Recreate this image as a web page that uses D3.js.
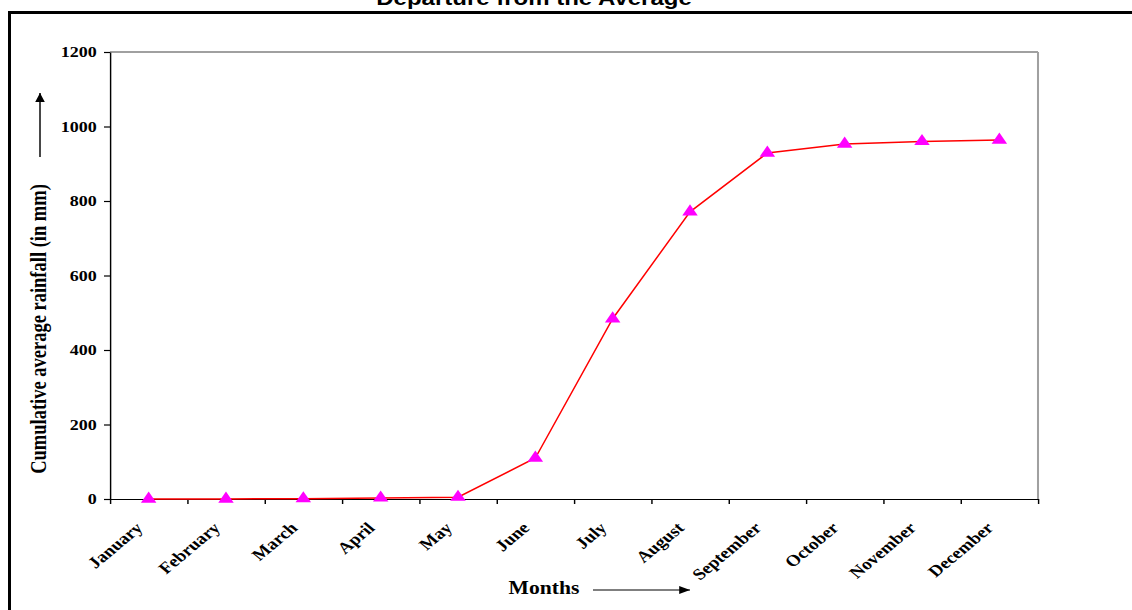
<!DOCTYPE html>
<html>
<head>
<meta charset="utf-8">
<script src="https://cdn.jsdelivr.net/npm/d3@7"></script>
<style>
    html, body { margin: 0; padding: 0; background: #fff; }
    svg { display: block; }
</style>
</head>
<body>
<svg id="chart" width="1132" height="610"></svg>
<script>
// Chart data
const months = ['January', 'February', 'March', 'April', 'May', 'June',
    'July', 'August', 'September', 'October', 'November', 'December'];
const rainfall = [0, 0, 1, 3, 5, 110, 484, 771, 929, 953, 960, 964];
const yTicks = [0, 200, 400, 600, 800, 1000, 1200];
const chartTitle = 'Departure from the Average';
const yTitle = 'Cumulative average rainfall (in mm)';
const xTitle = 'Months';

const svg = d3.select('#chart');
const sx = 1.2; // the original picture is stretched sideways, so draw in a narrower frame and scale it

// outer frame (screen coordinates)
svg.append('rect')
    .attr('x', 9.5).attr('y', 12.5)
    .attr('width', 1140).attr('height', 620)
    .attr('fill', 'none')
    .attr('stroke', '#000')
    .attr('stroke-width', 3);

const g = svg.append('g').attr('transform', `scale(${sx},1)`);

const plot = { left: 110 / sx, right: 1038 / sx, top: 52, bottom: 499 };

const x = d3.scaleBand().domain(months).range([plot.left, plot.right]).padding(0);
const xEdge = d3.scaleLinear().domain([0, months.length]).range([plot.left, plot.right]);
const y = d3.scaleLinear().domain([0, 1200]).range([plot.bottom, plot.top]);

// plot area border (top and right in grey)
g.append('line')
    .attr('x1', plot.left).attr('x2', plot.right)
    .attr('y1', plot.top).attr('y2', plot.top)
    .attr('stroke', '#a0a0a0').attr('stroke-width', 2);
g.append('line')
    .attr('x1', plot.right).attr('x2', plot.right)
    .attr('y1', plot.top).attr('y2', plot.bottom)
    .attr('stroke', '#a0a0a0').attr('stroke-width', 1.7);

// y axis
const yAxis = g.append('g')
    .attr('transform', `translate(${plot.left},0)`)
    .call(d3.axisLeft(y).tickValues(yTicks).tickFormat(d3.format('d'))
        .tickSize(5).tickPadding(6).tickSizeOuter(0));
yAxis.selectAll('text')
    .attr('font-family', '"Liberation Serif", "Times New Roman", serif')
    .attr('font-weight', 'bold')
    .attr('font-size', 15)
    .attr('fill', '#000');

// x axis, ticks on category boundaries
g.append('g')
    .attr('transform', `translate(0,${plot.bottom})`)
    .call(d3.axisBottom(xEdge).tickValues(d3.range(months.length + 1)).tickFormat('')
        .tickSize(5).tickSizeOuter(0));

g.selectAll('.domain, .tick line').attr('stroke', '#000').attr('stroke-width', 1.2);

// month labels, rotated
g.append('g').selectAll('text')
    .data(months)
    .enter()
    .append('text')
    .attr('transform', d => `translate(${x(d) + x.bandwidth() / 2 - 4},${plot.bottom + 30}) rotate(-45)`)
    .attr('text-anchor', 'end')
    .attr('font-family', '"Liberation Serif", "Times New Roman", serif')
    .attr('font-weight', 'bold')
    .attr('font-size', 16)
    .text(d => d);

// the line and markers
const line = d3.line()
    .x((d, i) => x(months[i]) + x.bandwidth() / 2)
    .y(d => y(d));

g.append('path')
    .datum(rainfall)
    .attr('d', line)
    .attr('fill', 'none')
    .attr('stroke', '#ff0000')
    .attr('stroke-width', 1.5)
    .attr('vector-effect', 'non-scaling-stroke');

g.append('g').selectAll('path')
    .data(rainfall)
    .enter()
    .append('path')
    .attr('d', d3.symbol(d3.symbolTriangle, 72))
    .attr('transform', (d, i) => `translate(${x(months[i]) + x.bandwidth() / 2},${y(d)})`)
    .attr('fill', '#ff00ff');

// title, cut off at the top like the original
g.append('text')
    .attr('x', 534 / sx).attr('y', 5)
    .attr('text-anchor', 'middle')
    .attr('font-family', '"Liberation Sans", Arial, sans-serif')
    .attr('font-weight', 'bold')
    .attr('font-size', 20)
    .text(chartTitle);

// y title with upward arrow
g.append('text')
    .attr('transform', `translate(${46 / sx},329) rotate(-90)`)
    .attr('text-anchor', 'middle')
    .attr('font-family', '"Liberation Serif", "Times New Roman", serif')
    .attr('font-weight', 'bold')
    .attr('font-size', 18.5)
    .text(yTitle);

const defs = svg.append('defs');
defs.append('marker')
    .attr('id', 'arrow')
    .attr('markerUnits', 'userSpaceOnUse')
    .attr('markerWidth', 10).attr('markerHeight', 8)
    .attr('refX', 9).attr('refY', 4)
    .attr('orient', 'auto')
    .append('path')
    .attr('d', 'M0,0 L9,4 L0,8 z')
    .attr('fill', '#000');

g.append('line')
    .attr('x1', 40 / sx).attr('x2', 40 / sx)
    .attr('y1', 157).attr('y2', 93)
    .attr('stroke', '#000').attr('stroke-width', 1.2)
    .attr('marker-end', 'url(#arrow)');

// x title with arrow to the right
g.append('text')
    .attr('x', 544 / sx).attr('y', 594)
    .attr('text-anchor', 'middle')
    .attr('font-family', '"Liberation Serif", "Times New Roman", serif')
    .attr('font-weight', 'bold')
    .attr('font-size', 18)
    .text(xTitle);

g.append('line')
    .attr('x1', 593 / sx).attr('x2', 690 / sx)
    .attr('y1', 590).attr('y2', 590)
    .attr('stroke', '#000').attr('stroke-width', 1.2)
    .attr('marker-end', 'url(#arrow)');
</script>
</body>
</html>
